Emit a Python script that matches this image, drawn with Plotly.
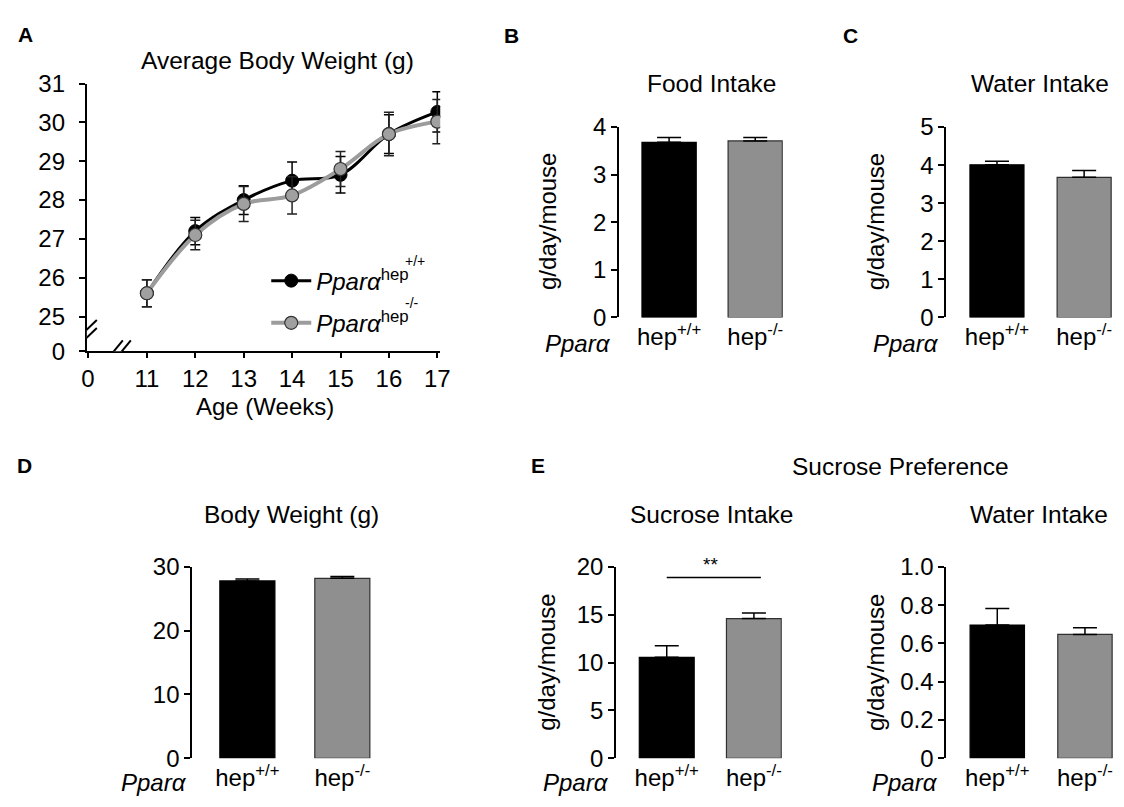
import plotly.graph_objects as go

W, H = 1124, 807
FONT = "Liberation Sans, Arial, Helvetica, sans-serif"
BLACK = "#000000"
GREY_BAR = "#8f8f8f"
GREY_LINE = "#9c9c9c"
GREY_MARK = "#a0a0a0"

# ---------------- data ----------------
weeks = [11, 12, 13, 14, 15, 16, 17]
wt_weight = [25.6, 27.2, 28.0, 28.5, 28.65, 29.7, 30.27]
wt_err = [0.35, 0.35, 0.37, 0.48, 0.47, 0.50, 0.52]
ko_weight = [25.6, 27.1, 27.9, 28.12, 28.8, 29.7, 30.02]
ko_err = [0.35, 0.38, 0.45, 0.48, 0.45, 0.56, 0.57]

genotype_ticks = ["hep<sup>+/+</sup>", "hep<sup>-/-</sup>"]
genotype_sups = ["+/+", "-/-"]
food_intake = [3.68, 3.71]
food_err = [0.10, 0.07]
water_intake = [4.01, 3.68]
water_err = [0.09, 0.18]
body_weight = [27.8, 28.2]
body_err = [0.30, 0.30]
sucrose_intake = [10.55, 14.6]
sucrose_err = [1.20, 0.57]
sp_water_intake = [0.696, 0.647]
sp_water_err = [0.086, 0.035]

legend_names = ["<i>Pparα</i><sup>hep</sup>", "<i>Pparα</i><sup>hep</sup> "]

TICK_SIZE = 24
TITLE_SIZE = 24.5


def px(x):
    return x / W


def py(y):
    return 1 - y / H


fig = go.Figure()

# ---------------- panel A ----------------
fig.add_trace(go.Scatter(
    x=weeks, y=wt_weight, name=legend_names[0], legendgroup="wt", mode="lines+markers",
    line=dict(color=BLACK, width=3, shape="spline", smoothing=1),
    marker=dict(color=BLACK, size=13, line=dict(color=BLACK, width=1)),
    error_y=dict(type="data", array=wt_err, color=BLACK, thickness=1.5, width=5),
    xaxis="x", yaxis="y"))
fig.add_trace(go.Scatter(
    x=weeks, y=ko_weight, name=legend_names[1], legendgroup="ko", mode="lines+markers",
    line=dict(color=GREY_LINE, width=4, shape="spline", smoothing=1),
    marker=dict(color=GREY_MARK, size=13, line=dict(color="#333333", width=1.2)),
    error_y=dict(type="data", array=ko_err, color="#222222", thickness=1.5, width=5),
    xaxis="x", yaxis="y"))

A_X0 = 9.78   # position of the "0" week tick (broken axis)
A_Y0 = 24.104  # position of the "0" gram tick (broken axis)

common_axis = dict(showgrid=False, zeroline=False, showline=True, linecolor=BLACK,
                   linewidth=2, ticks="outside", ticklen=6, tickwidth=2, tickcolor=BLACK,
                   tickfont=dict(family=FONT, size=TICK_SIZE, color=BLACK), fixedrange=True)

fig.update_layout(
    xaxis=dict(common_axis, domain=[px(82), px(440.5)], range=[9.76, 17.06],
               tickvals=[A_X0] + weeks, ticktext=["0"] + [str(w) for w in weeks],
               ticklen=5, anchor="y"),
    yaxis=dict(common_axis, domain=[py(349), py(72)], range=[A_Y0, 31],
               tickvals=[A_Y0, 25, 26, 27, 28, 29, 30, 31],
               ticktext=["0", "25", "26", "27", "28", "29", "30", "31"],
               ticklabelstandoff=9, anchor="x"),
)

# ---------------- bar panels ----------------
bar_panels = [
    # axis id, values, errors, y range, tickvals, ticktext, x px domain, y px domain, bar width
    ("2", food_intake, food_err, [0, 4], [0, 1, 2, 3, 4], None, (622, 788), (117, 314), 0.63),
    ("3", water_intake, water_err, [0, 5], [0, 1, 2, 3, 4, 5], None, (954, 1122), (117, 314), 0.62),
    ("4", body_weight, body_err, [0, 30], [0, 10, 20, 30], None, (189, 372), (572, 770), 0.58),
    ("5", sucrose_intake, sucrose_err, [0, 20], [0, 5, 10, 15, 20], None, (619, 787), (572, 770), 0.63),
    ("6", sp_water_intake, sp_water_err, [0, 1], [0, 0.2, 0.4, 0.6, 0.8, 1.0],
     ["0", "0.2", "0.4", "0.6", "0.8", "1.0"], (954, 1123), (572, 770), 0.62),
]

for aid, vals, errs, yr, tv, tt, xd, yd, bw in bar_panels:
    xs = list(range(len(vals)))
    fig.add_trace(go.Bar(
        x=xs, y=vals, width=bw, showlegend=False,
        marker=dict(color=[BLACK, GREY_BAR], line=dict(color=["#000000", "#303030"], width=1.2)),
        error_y=dict(type="data", symmetric=False, array=errs, arrayminus=[0] * len(errs),
                     color=BLACK, thickness=1.5, width=12),
        xaxis="x" + aid, yaxis="y" + aid))
    fig.layout["xaxis" + aid] = dict(
        domain=[px(xd[0]), px(xd[1])], range=[-0.58, 1.32], anchor="y" + aid,
        showgrid=False, zeroline=False, showline=False, ticks="",
        tickvals=xs, ticktext=genotype_ticks, ticklabelstandoff=3,
        tickfont=dict(family=FONT, size=TICK_SIZE, color=BLACK), fixedrange=True)
    yax = dict(common_axis, domain=[py(yd[1]), py(yd[0])], range=yr, anchor="x" + aid,
               tickvals=tv)
    if tt is not None:
        yax["ticktext"] = tt
    fig.layout["yaxis" + aid] = yax

# ---------------- annotations ----------------
ann = []


def text(x, y, s, size=TICK_SIZE, bold=False, italic=False, angle=0, xanchor="center"):
    if bold:
        s = "<b>" + s + "</b>"
    if italic:
        s = "<i>" + s + "</i>"
    ann.append(dict(x=px(x), y=py(y), xref="paper", yref="paper", text=s, showarrow=False,
                    xanchor=xanchor, yanchor="middle", textangle=angle, borderpad=0,
                    font=dict(family=FONT, size=size, color=BLACK)))


# panel letters
for letter, x, y in [("A", 20, 21), ("B", 513, 22), ("C", 857, 22), ("D", 19, 467), ("E", 540, 467)]:
    text(x, y, letter, size=21, bold=True)

# titles
text(275, 48, "Average Body Weight (g)", size=TITLE_SIZE)
text(716, 72, "Food Intake", size=TITLE_SIZE)
text(1049, 72, "Water Intake", size=TITLE_SIZE)
text(290, 518, "Body Weight (g)", size=TITLE_SIZE)
text(907, 468, "Sucrose Preference", size=TITLE_SIZE)
text(716, 518, "Sucrose Intake", size=TITLE_SIZE)
text(1048, 518, "Water Intake", size=TITLE_SIZE)

# axis titles
text(263, 406, "Age (Weeks)", size=TICK_SIZE)
for x, y in [(550, 215), (882, 215), (548, 671), (882, 671)]:
    text(x, y, "g/day/mouse", size=TICK_SIZE, angle=-90)

# genotype row labels
for x, y in [(580, 341), (913, 341), (150, 795), (578, 795), (912, 795)]:
    text(x, y, "Pparα", size=TICK_SIZE, italic=True)

# second-level superscripts of the legend entries
text(404, 256, genotype_sups[0], size=14, xanchor="left")
text(404, 299, genotype_sups[1], size=14, xanchor="left")

# significance
ann.append(dict(x=0.5, y=18.9, xref="x5", yref="y5", text="**", showarrow=False,
                xanchor="center", yanchor="bottom", font=dict(family=FONT, size=19, color=BLACK)))

shapes = [dict(type="line", xref="x5", yref="y5", x0=0, x1=1.08, y0=18.9, y1=18.9,
               line=dict(color=BLACK, width=1.5))]

# axis break marks (panel A)
shapes.append(dict(type="line", xref="x", yref="y", xsizemode="pixel", ysizemode="pixel",
                   xanchor=9.76, yanchor=24.55, x0=0, x1=0, y0=-4, y1=4,
                   line=dict(color="white", width=6)))
for off in (4, -4):
    shapes.append(dict(type="line", xref="x", yref="y", xsizemode="pixel", ysizemode="pixel",
                       xanchor=9.76, yanchor=24.55, x0=-11, x1=10, y0=-10 + off, y1=10 + off,
                       line=dict(color=BLACK, width=2)))
shapes.append(dict(type="line", xref="x", yref="y", xsizemode="pixel", ysizemode="pixel",
                   xanchor=10.4, yanchor=A_Y0, x0=-4, x1=4, y0=0, y1=0,
                   line=dict(color="white", width=6)))
for off in (-4, 4):
    shapes.append(dict(type="line", xref="x", yref="y", xsizemode="pixel", ysizemode="pixel",
                       xanchor=10.4, yanchor=A_Y0, x0=-9 + off, x1=9 + off, y0=-11, y1=11,
                       line=dict(color=BLACK, width=2)))

fig.update_layout(
    width=W, height=H, autosize=False,
    margin=dict(l=0, r=0, t=0, b=0),
    paper_bgcolor="white", plot_bgcolor="white",
    font=dict(family=FONT, size=TICK_SIZE, color=BLACK),
    showlegend=True,
    legend=dict(x=px(264), y=py(253), xanchor="left", yanchor="top",
                bgcolor="rgba(0,0,0,0)", font=dict(family=FONT, size=TICK_SIZE, color=BLACK),
                itemwidth=40, tracegroupgap=8, traceorder="grouped"),
    annotations=ann, shapes=shapes,
    bargap=0.3,
)

fig.write_html("out.html", config={"displayModeBar": False},
               post_script="document.body.style.margin='0px';")
